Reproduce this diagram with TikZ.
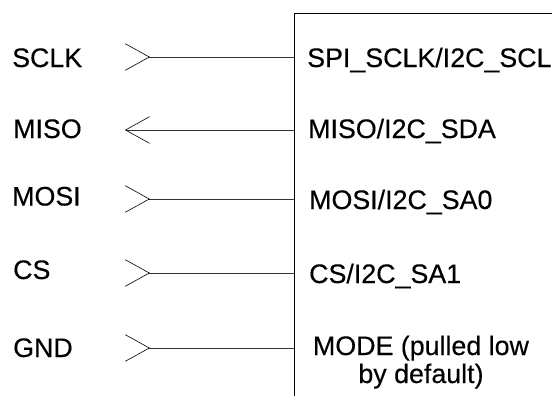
\documentclass[tikz,border=0pt]{standalone}
\usepackage{fontspec}
\setmainfont[FakeBold=0.3,AutoFakeBold=0.3]{Liberation Sans}
\usepackage{tikz}
\tikzset{sig/.style={font=\fontsize{26.8}{28}\selectfont,inner sep=0pt,anchor=base west},
  pinlbl/.style={font=\fontsize{26.8}{28}\selectfont,inner sep=0pt,anchor=base west},
  wire/.style={draw=black!80,line width=0.8pt},
  chev/.style={draw=black,line width=0.6pt},
  chip/.style={draw=black,line width=1pt}}

\begin{document}
\begin{tikzpicture}[x=1pt,y=-1pt]
      \useasboundingbox (0,0) rectangle (552,396);
      % chip outline
      \coordinate (boxTR) at (553,13.3);\coordinate (boxTL) at (294.3,13.3);\coordinate (boxBL) at (294.3,397);
      \draw[chip](boxTR)--(boxTL)--(boxBL);
      % signal names
      \node[sig](sclk) at (12,67){SCLK};
      \node[sig](miso) at (13,138){MISO};
      \node[sig](mosi) at (12,205.5){MOSI};
      \node[sig](cs) at (13,279){CS};
      \node[sig](gnd) at (13,357){GND};
      % pin names
      \node[pinlbl](lSclk) at (307,67){SPI\_SCLK/I2C\_SCL};
      \node[pinlbl](lMiso) at (308,138){MISO/I2C\_SDA};
      \node[pinlbl](lMosi) at (309,209){MOSI/I2C\_SA0};
      \node[pinlbl](lCs) at (309,283){CS/I2C\_SA1};
      \node[pinlbl,anchor=base,align=center](lMode) at (421,383){MODE (pulled low\\by default)};
      % wire ends
      \coordinate (sclkT) at (149.3,57);\coordinate (sclkE) at (294.3,57);
      \coordinate (misoT) at (125.5,130);\coordinate (misoE) at (294.3,130);
      \coordinate (mosiT) at (149.3,199);\coordinate (mosiE) at (294.3,199);
      \coordinate (csT) at (149.3,273);\coordinate (csE) at (294.3,273);
      \coordinate (gndT) at (149.3,348);\coordinate (gndE) at (294.3,348);
      \draw[wire](sclkT)--(sclkE);\draw[wire](misoT)--(misoE);\draw[wire](mosiT)--(mosiE);
      \draw[wire](csT)--(csE);\draw[wire](gndT)--(gndE);
      % chevrons
      \draw[chev](sclkT)++(-24,-13.3)--(sclkT)--++(-24,13.3);
      \draw[chev](misoT)++(24,-13.3)--(misoT)--++(24,13.3);
      \draw[chev](mosiT)++(-24,-13.3)--(mosiT)--++(-24,13.3);
      \draw[chev](csT)++(-24,-13.3)--(csT)--++(-24,13.3);
      \draw[chev](gndT)++(-24,-13.3)--(gndT)--++(-24,13.3);
    \end{tikzpicture}
\end{document}
